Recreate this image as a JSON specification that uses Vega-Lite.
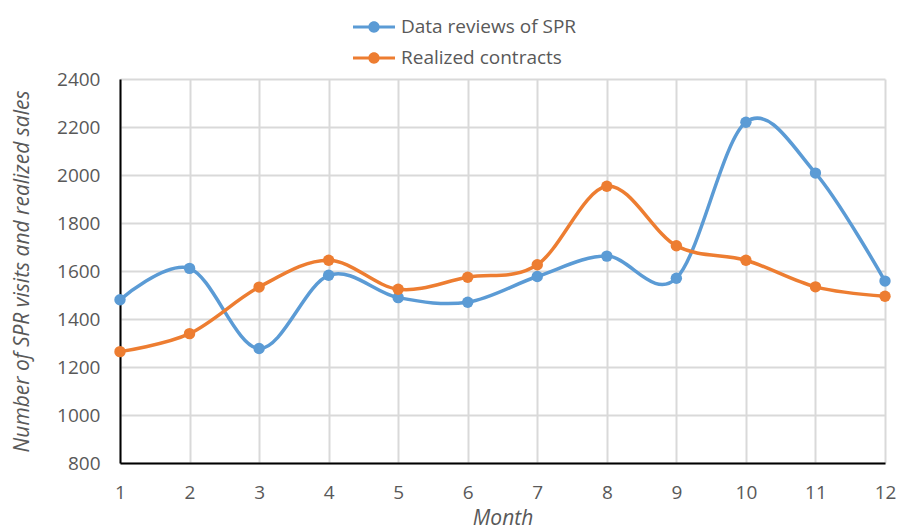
{
  "$schema": "https://vega.github.io/schema/vega-lite/v6.json",
  "width": 765,
  "height": 384,
  "autosize": {"type": "none"},
  "padding": {"left": 120, "top": 79, "right": 13, "bottom": 68},
  "background": "white",
  "config": {
    "font": "Open Sans",
    "view": {"stroke": null}
  },
  "data": {
    "values": [
      {"month": 1, "series": "Data reviews of SPR", "value": 1480},
      {"month": 2, "series": "Data reviews of SPR", "value": 1611},
      {"month": 3, "series": "Data reviews of SPR", "value": 1277},
      {"month": 4, "series": "Data reviews of SPR", "value": 1582},
      {"month": 5, "series": "Data reviews of SPR", "value": 1489},
      {"month": 6, "series": "Data reviews of SPR", "value": 1470},
      {"month": 7, "series": "Data reviews of SPR", "value": 1577},
      {"month": 8, "series": "Data reviews of SPR", "value": 1662},
      {"month": 9, "series": "Data reviews of SPR", "value": 1570},
      {"month": 10, "series": "Data reviews of SPR", "value": 2220},
      {"month": 11, "series": "Data reviews of SPR", "value": 2008},
      {"month": 12, "series": "Data reviews of SPR", "value": 1558},
      {"month": 1, "series": "Realized contracts", "value": 1264},
      {"month": 2, "series": "Realized contracts", "value": 1339},
      {"month": 3, "series": "Realized contracts", "value": 1533},
      {"month": 4, "series": "Realized contracts", "value": 1645},
      {"month": 5, "series": "Realized contracts", "value": 1524},
      {"month": 6, "series": "Realized contracts", "value": 1574},
      {"month": 7, "series": "Realized contracts", "value": 1626},
      {"month": 8, "series": "Realized contracts", "value": 1953},
      {"month": 9, "series": "Realized contracts", "value": 1705},
      {"month": 10, "series": "Realized contracts", "value": 1645},
      {"month": 11, "series": "Realized contracts", "value": 1534},
      {"month": 12, "series": "Realized contracts", "value": 1495}
    ]
  },
  "encoding": {
    "x": {
      "field": "month",
      "type": "quantitative",
      "scale": {"domain": [1, 12], "nice": false, "zero": false},
      "axis": {
        "title": "Month",
        "values": [1,2,3,4,5,6,7,8,9,10,11,12],
        "format": "d",
        "grid": true,
        "gridColor": "#D9D9D9",
        "gridWidth": 2,
        "domainColor": "#000000",
        "domainWidth": 2,
        "ticks": false,
        "labelFlush": false,
        "labelPadding": 20,
        "labelFontSize": 19,
        "labelColor": "#595959",
        "labelFont": "Open Sans",
        "titleFont": "Open Sans",
        "titleFontSize": 21,
        "titleFontStyle": "italic",
        "titleFontWeight": "normal",
        "titleColor": "#595959",
        "titlePadding": 5
      }
    },
    "y": {
      "field": "value",
      "type": "quantitative",
      "scale": {"domain": [800, 2400], "nice": false, "zero": false},
      "axis": {
        "title": "Number of SPR visits and realized sales",
        "values": [800,1000,1200,1400,1600,1800,2000,2200,2400],
        "format": "d",
        "grid": true,
        "gridColor": "#D9D9D9",
        "gridWidth": 2,
        "domainColor": "#000000",
        "domainWidth": 2,
        "ticks": false,
        "labelFlush": false,
        "labelPadding": 20,
        "labelFontSize": 19,
        "labelColor": "#595959",
        "labelFont": "Open Sans",
        "titleFont": "Open Sans",
        "titleFontSize": 21,
        "titleFontStyle": "italic",
        "titleFontWeight": "normal",
        "titleColor": "#595959",
        "titlePadding": 24
      }
    },
    "color": {
      "field": "series",
      "type": "nominal",
      "scale": {
        "domain": ["Data reviews of SPR", "Realized contracts"],
        "range": ["#5B9BD5", "#ED7D31"]
      },
      "legend": {
        "title": null,
        "orient": "none",
        "legendX": 233,
        "legendY": -73,
        "direction": "vertical",
        "symbolType": "M-1,-0.075L1,-0.075L1,0.075L-1,0.075Z M0.27,0A0.27,0.27 0 1,1 -0.27,0A0.27,0.27 0 1,1 0.27,0Z",
        "symbolSize": 1764,
        "symbolOpacity": 1,
        "symbolStrokeWidth": 0,
        "labelFont": "Open Sans",
        "labelFontSize": 19,
        "labelColor": "#595959",
        "labelOffset": 6,
        "labelLimit": 400,
        "rowPadding": -3,
        "encode": {
          "symbols": {
            "update": {
              "size": {"value": 1764},
              "fill": {"scale": "color", "field": "value"},
              "strokeWidth": {"value": 0},
              "opacity": {"value": 1}
            }
          }
        }
      }
    }
  },
  "layer": [
    {
      "mark": {"type": "line", "interpolate": "cardinal", "strokeWidth": 3.5}
    },
    {
      "mark": {"type": "point", "filled": true, "size": 130, "opacity": 1}
    }
  ]
}
